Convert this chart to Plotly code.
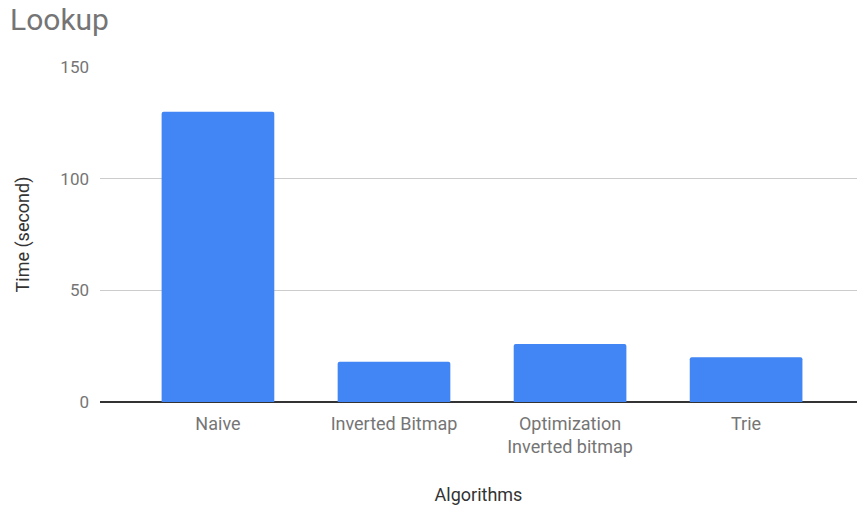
import plotly.graph_objects as go

categories = ["Naive", "Inverted Bitmap", "Optimization<br>Inverted bitmap", "Trie"]
times = [130, 18, 26, 20]
y_ticks = [0, 50, 100, 150]

fig = go.Figure(go.Bar(
    x=categories, y=times,
    marker=dict(color="#4285F4", line=dict(width=0)),
    width=0.64,
))

fig.update_layout(
    width=857, height=510,
    margin=dict(l=100, r=0, t=67, b=108),
    paper_bgcolor="white", plot_bgcolor="white",
    font=dict(family="Roboto", size=18, color="#757575"),
    title=dict(text="Lookup", x=10/857, xanchor="left", y=1-19/510, yanchor="middle",
               font=dict(family="Roboto", size=30, color="#757575")),
    barcornerradius=2,
    showlegend=False,
)
fig.update_xaxes(
    range=[-0.67, 3.63], showgrid=False, ticks="", ticklabelstandoff=9,
    tickfont=dict(size=18, color="#757575"),
    title=dict(text="Algorithms", font=dict(size=18, color="#333333"), standoff=31),
    showline=False,
)
fig.update_yaxes(
    range=[0, 150], tickvals=y_ticks, showgrid=True, gridcolor="#cccccc", gridwidth=1,
    zeroline=True, zerolinecolor="#333333", zerolinewidth=2,
    ticks="", ticklabelstandoff=10,
    tickfont=dict(size=17, color="#757575"),
    title=dict(text="Time (second)", font=dict(size=18, color="#333333"), standoff=26),
)

fig.write_html("out.html")
